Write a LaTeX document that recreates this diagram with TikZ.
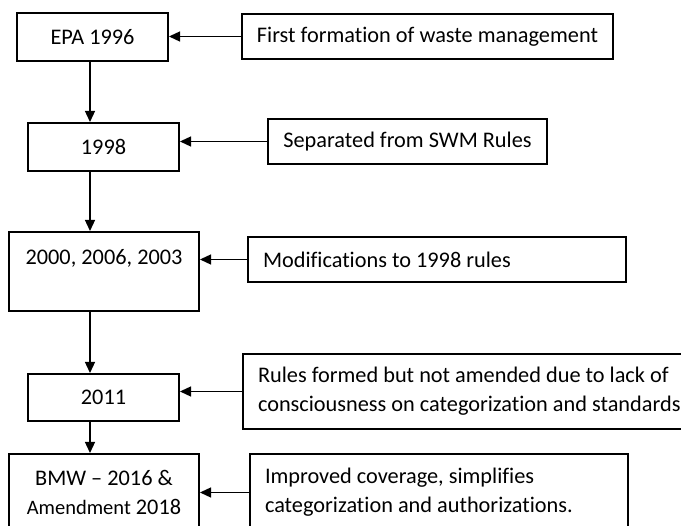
\documentclass[tikz,border=0pt]{standalone}
\usepackage{fontspec}
\setmainfont{Carlito}[Ligatures={TeX,NoCommon}]
\usetikzlibrary{arrows.meta}
\tikzset{chart/.style={x=1pt,y=-1pt,font=\fontsize{22.3}{29}\selectfont}}
\tikzset{yearbox/.style={draw,line width=2pt,inner sep=0pt,align=center},
         notebox/.style={draw,line width=2pt,inner xsep=15pt,inner ysep=0pt,align=flush left},
         flow/.style={line width=1.3pt,-{Triangle[length=11pt,width=10pt]}}}

\begin{document}
\begin{tikzpicture}[chart]
    \useasboundingbox (0,0) rectangle (681,526);
    \clip (0,0) rectangle (681,526);
    % timeline boxes
    \node[yearbox,minimum width=151pt,minimum height=48pt] (epa)   at (92.5,37)  {EPA 1996};
    \node[yearbox,minimum width=151pt,minimum height=48pt] (b1998) at (103.5,147) {1998};
    \node[yearbox,minimum width=190pt,minimum height=79pt] (b2000) at (104,271.5) {2000, 2006, 2003\\ \mbox{}};
    \node[yearbox,minimum width=151pt,minimum height=47pt] (b2011) at (103.5,397.5) {2011};
    \node[yearbox,minimum width=190pt,minimum height=76pt] (bmw)   at (104,492)
        {BMW -- 2016 \&\\ {\fontsize{20.5}{29}\selectfont Amendment} 2018};
    % notes
    \node[yearbox,minimum width=371pt,minimum height=45pt] (first) at (427.5,36.5) {First formation of waste management};
    \node[yearbox,minimum width=279pt,minimum height=45pt] (sep)   at (407.5,141.5) {Separated from SWM Rules};
    \node[notebox,text width=348pt,minimum height=45pt] (mod)   at (437,259.5) {Modifications to 1998 rules};
    \node[notebox,text width=424pt,minimum height=75pt] (rules) at (470,391.5)
        {Rules formed but not amended due to lack of\\ consciousness on categorization and standards};
    \node[notebox,text width=348pt,minimum height=76pt] (imp)   at (439,492.5)
        {Improved coverage, simplifies\\ categorization and authorizations.};
    % connectors
    \coordinate (spine) at (90,0);
    \draw[flow] (epa.south -| spine)   -- (b1998.north -| spine);
    \draw[flow] (b1998.south -| spine) -- (b2000.north -| spine);
    \draw[flow] (b2000.south -| spine) -- (b2011.north -| spine);
    \draw[flow] (b2011.south -| spine) -- (bmw.north -| spine);
    \draw[flow] (first.west) -- (first.west -| epa.east);
    \draw[flow] (sep.west)   -- (sep.west -| b1998.east);
    \draw[flow] (mod.west)   -- (mod.west -| b2000.east);
    \draw[flow] (rules.west) -- (rules.west -| b2011.east);
    \draw[flow] (imp.west)   -- (imp.west -| bmw.east);
\end{tikzpicture}
\end{document}
